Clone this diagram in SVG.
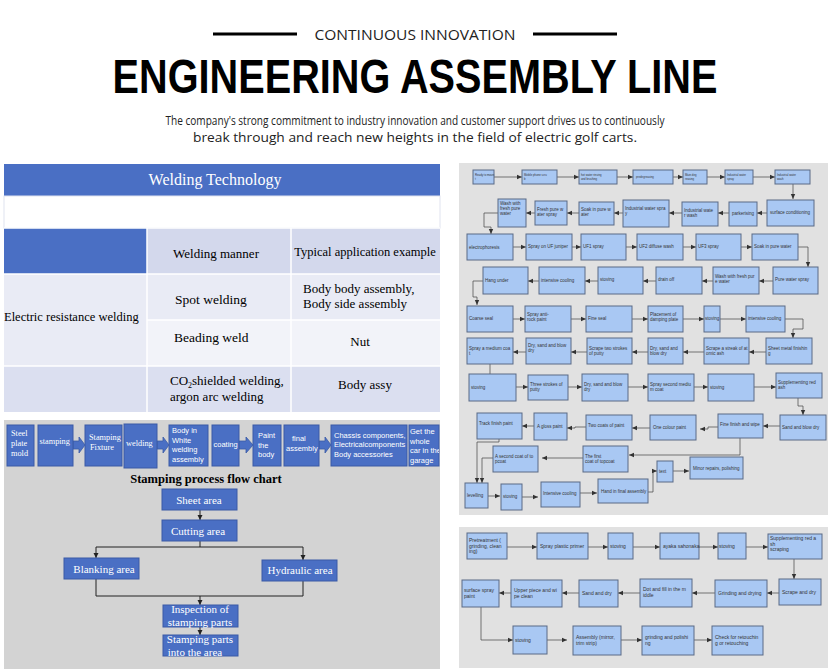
<svg xmlns="http://www.w3.org/2000/svg" width="831" height="672" viewBox="0 0 831 672">
<defs>
<marker id="a" markerWidth="6" markerHeight="6" refX="5" refY="3" orient="auto" markerUnits="userSpaceOnUse"><path d="M0,0.8 L5,3 L0,5.2 z" fill="#333"/></marker>
<marker id="k" markerWidth="6" markerHeight="6" refX="5" refY="3" orient="auto" markerUnits="userSpaceOnUse"><path d="M0,0.5 L5,3 L0,5.5 z" fill="#222"/></marker>
<clipPath id="gclip"><rect x="409" y="425" width="30" height="41"/></clipPath>
<style>
.bx{fill:#a9c8f3;stroke:#5a6a86;stroke-width:1}
.t1{font-family:"Liberation Sans",Arial,sans-serif;font-size:2.8px;fill:#333}
.t{font-family:"Liberation Sans",Arial,sans-serif;font-size:4.5px;fill:#333}
.t2{font-family:"Liberation Sans",Arial,sans-serif;font-size:5px;fill:#333}
.c{fill:none;stroke:#444;stroke-width:0.7;marker-end:url(#a)}
.cl{fill:none;stroke:#444;stroke-width:0.7}
.sb{fill:#4a6fc4;stroke:#3a5aa6;stroke-width:1}
.sw{font-family:"Liberation Serif","Times New Roman",serif;font-size:8.3px;fill:#fff}
.ss{font-family:"Liberation Sans",Arial,sans-serif;font-size:7.5px;fill:#fff}
.fb{fill:#4a6fc4;stroke:#3a5aa6;stroke-width:1}
.ft{font-family:"Liberation Serif","Times New Roman",serif;font-size:11px;fill:#fff;text-anchor:middle}
.fc{fill:none;stroke:#222;stroke-width:1}
.fa{fill:none;stroke:#222;stroke-width:1;marker-end:url(#k)}
.tt{font-family:"Liberation Serif","Times New Roman",serif;fill:#000}
.ba{fill:#4a6fc4;stroke:#3a5aa6;stroke-width:0.8}
</style>
</defs>
<rect width="831" height="672" fill="#fff"/>

<!-- Header -->
<g id="header">
<line x1="213" y1="34" x2="297" y2="34" stroke="#000" stroke-width="3"/>
<line x1="533" y1="34" x2="617" y2="34" stroke="#000" stroke-width="3"/>
<text x="415" y="40" text-anchor="middle" font-family="'Open Sans','Liberation Sans',sans-serif" font-size="15" fill="#222" textLength="201" lengthAdjust="spacingAndGlyphs">CONTINUOUS INNOVATION</text>
<text x="415" y="93" text-anchor="middle" font-family="'Liberation Sans',Arial,sans-serif" font-weight="bold" font-size="49" fill="#000" textLength="605" lengthAdjust="spacingAndGlyphs">ENGINEERING ASSEMBLY LINE</text>
<text x="415" y="125" text-anchor="middle" font-family="'Open Sans','Liberation Sans',sans-serif" font-size="12" fill="#222" textLength="499" lengthAdjust="spacingAndGlyphs">The company's strong commitment to industry innovation and customer support drives us to continuously</text>
<text x="415" y="142" text-anchor="middle" font-family="'Open Sans','Liberation Sans',sans-serif" font-size="12" fill="#222" textLength="444" lengthAdjust="spacingAndGlyphs">break through and reach new heights in the field of electric golf carts.</text>
</g>

<!-- Welding table -->
<g id="welding-table">
<rect x="4" y="164" width="436" height="32" fill="#4a6fc4"/>
<text x="215" y="185" text-anchor="middle" class="tt" font-size="16" style="fill:#fff">Welding Technology</text>
<rect x="4" y="196" width="436" height="32" fill="#fff" stroke="#e0e3ef" stroke-width="1"/>
<rect x="4" y="228" width="143" height="46" fill="#4a6fc4"/>
<rect x="147" y="228" width="144" height="46" fill="#d3d8ec"/>
<rect x="291" y="228" width="149" height="46" fill="#d3d8ec"/>
<rect x="4" y="274" width="143" height="92" fill="#e9ebf5"/>
<rect x="147" y="274" width="293" height="46" fill="#e9ebf5"/>
<rect x="147" y="320" width="293" height="46" fill="#f2f3f9"/>
<rect x="4" y="366" width="436" height="46" fill="#dbdff0"/>
<g stroke="#fff" stroke-width="1.5">
<line x1="4" y1="228" x2="440" y2="228"/>
<line x1="4" y1="274" x2="440" y2="274"/>
<line x1="147" y1="320" x2="440" y2="320"/>
<line x1="4" y1="366" x2="440" y2="366"/>
<line x1="147" y1="228" x2="147" y2="412"/>
<line x1="291" y1="228" x2="291" y2="412"/>
</g>
<text x="216" y="258" text-anchor="middle" class="tt" font-size="13">Welding manner</text>
<text x="365" y="256" text-anchor="middle" class="tt" font-size="12.5">Typical application example</text>
<text x="4" y="321" class="tt" font-size="12.5">Electric resistance welding</text>
<text x="175" y="304" class="tt" font-size="13.5">Spot welding</text>
<text x="303" y="293" class="tt" font-size="13">Body body assembly,</text>
<text x="303" y="308" class="tt" font-size="13">Body side assembly</text>
<text x="174" y="342" class="tt" font-size="13.5">Beading weld</text>
<text x="360" y="346" text-anchor="middle" class="tt" font-size="13">Nut</text>
<text x="170" y="385" class="tt" font-size="13">CO<tspan font-size="8" dy="3">2</tspan><tspan dy="-3">shielded welding,</tspan></text>
<text x="170" y="401" class="tt" font-size="13">argon arc welding</text>
<text x="365" y="389" text-anchor="middle" class="tt" font-size="13">Body assy</text>
</g>

<!-- Stamping section background -->
<rect x="4" y="420" width="436" height="249" fill="#d3d3d3"/>

<!-- Process strip -->
<g id="strip-connectors">
<path class="ba" d="M73,441 L79,441 L79,437 L85,445 L79,453 L79,449 L73,449 z"/>
<path class="ba" d="M157,441 L163,441 L163,437 L169,445 L163,453 L163,449 L157,449 z"/>
<path class="ba" d="M239,441 L246,441 L246,437 L253,445 L246,453 L246,449 L239,449 z"/>
<path class="ba" d="M319,441 L325,441 L325,437 L331,445 L325,453 L325,449 L319,449 z"/>
</g>
<g id="s-steel"><rect class="sb" x="7" y="425" width="27" height="41"/><text class="sw" x="11" y="436">Steel</text><text class="sw" x="11" y="446">plate</text><text class="sw" x="11" y="456">mold</text></g>
<g id="s-stamping"><rect class="sb" x="38" y="425" width="35" height="41"/><text class="sw" x="39.5" y="444">stamping</text></g>
<g id="s-fixture"><rect class="sb" x="85" y="425" width="37" height="41"/><text class="sw" x="89" y="440">Stamping</text><text class="sw" x="90" y="450">Fixture</text></g>
<g id="s-welding"><rect class="sb" x="124" y="424" width="33" height="44"/><text class="sw" x="126" y="446">welding</text></g>
<g id="s-biw"><rect class="sb" x="169" y="425" width="39" height="41"/><text class="ss" x="172" y="433">Body in</text><text class="ss" x="172" y="443">White</text><text class="ss" x="172" y="452">welding</text><text class="ss" x="172" y="462">assembly</text></g>
<g id="s-coating"><rect class="sb" x="212" y="425" width="27" height="41"/><text class="ss" x="213.5" y="447">coating</text></g>
<g id="s-paint"><rect class="sb" x="253" y="425" width="28" height="41"/><text class="ss" x="258" y="438">Paint</text><text class="ss" x="258" y="448">the</text><text class="ss" x="258" y="457">body</text></g>
<g id="s-final"><rect class="sb" x="284" y="425" width="35" height="41"/><text class="ss" x="292" y="441">final</text><text class="ss" x="286" y="451">assembly</text></g>
<g id="s-chassis"><rect class="sb" x="331" y="425" width="76" height="41"/><text class="ss" x="334" y="438">Chassis components,</text><text class="ss" x="334" y="447">Electricalcomponents</text><text class="ss" x="334" y="457">Body accessories</text></g>
<g id="s-garage"><rect class="sb" x="409" y="425" width="30" height="41"/><g clip-path="url(#gclip)"><text class="ss" x="410" y="434">Get the</text><text class="ss" x="410" y="444">whole</text><text class="ss" x="410" y="453">car in the</text><text class="ss" x="410" y="463">garage</text></g></g>

<!-- Stamping flowchart -->
<text x="206" y="483" text-anchor="middle" class="tt" font-size="12.5" font-weight="bold">Stamping process flow chart</text>
<g id="flow-connectors">
<line class="fa" x1="200" y1="510" x2="200" y2="520"/>
<polyline class="fc" points="200,541 200,547"/>
<line class="fc" x1="96" y1="547" x2="303" y2="547"/>
<line class="fa" x1="96" y1="547" x2="96" y2="558"/>
<line class="fa" x1="303" y1="547" x2="303" y2="560"/>
<polyline class="fc" points="96,579 96,596 303,596 303,581"/>
<line class="fa" x1="200" y1="596" x2="200" y2="605"/>
<line class="fa" x1="200" y1="627" x2="200" y2="635"/>
</g>
<g id="f-sheet"><rect class="fb" x="162" y="489" width="75" height="21"/><text class="ft" x="199" y="504">Sheet area</text></g>
<g id="f-cutting"><rect class="fb" x="162" y="520" width="75" height="21"/><text class="ft" x="198" y="535">Cutting area</text></g>
<g id="f-blanking"><rect class="fb" x="64" y="558" width="75" height="21"/><text class="ft" x="104" y="573">Blanking area</text></g>
<g id="f-hydraulic"><rect class="fb" x="262" y="560" width="75" height="21"/><text class="ft" x="300" y="574">Hydraulic area</text></g>
<g id="f-inspection"><rect class="fb" x="163" y="605" width="75" height="22"/><text class="ft" x="200" y="613">Inspection of</text><text class="ft" x="200" y="626">stamping parts</text></g>
<g id="f-into"><rect class="fb" x="163" y="635" width="75" height="21"/><text class="ft" x="200" y="643">Stamping parts</text><text class="ft" x="195" y="656">into the area</text></g>

<!-- Right panel 1 -->
<rect x="459" y="163" width="369" height="352" fill="#e1e1e1"/>
<g id="p1-connectors">
<line class="c" x1="494" y1="177" x2="522" y2="177"/>
<line class="c" x1="557" y1="177" x2="579" y2="177"/>
<line class="c" x1="617" y1="177" x2="633" y2="177"/>
<line class="c" x1="673" y1="177" x2="683" y2="177"/>
<line class="c" x1="707" y1="177" x2="725" y2="177"/>
<line class="c" x1="753" y1="177" x2="775" y2="177"/>
<line class="c" x1="793" y1="184" x2="793" y2="199"/>
<line class="c" x1="767" y1="213" x2="757" y2="213"/>
<line class="c" x1="729" y1="213" x2="718" y2="213"/>
<line class="c" x1="682" y1="213" x2="669" y2="213"/>
<line class="c" x1="623" y1="213" x2="614" y2="213"/>
<line class="c" x1="579" y1="213" x2="567" y2="213"/>
<line class="c" x1="535" y1="213" x2="526" y2="213"/>
<polyline class="c" points="498,213 484,213 484,227 491,227 491,234"/>
<line class="c" x1="513" y1="247" x2="526" y2="247"/>
<line class="c" x1="572" y1="247" x2="581" y2="247"/>
<line class="c" x1="626" y1="247" x2="637" y2="247"/>
<line class="c" x1="683" y1="247" x2="696" y2="247"/>
<line class="c" x1="741" y1="247" x2="752" y2="247"/>
<polyline class="c" points="798,247 808,247 808,267"/>
<line class="c" x1="773" y1="281" x2="759" y2="281"/>
<line class="c" x1="713" y1="281" x2="702" y2="281"/>
<line class="c" x1="656" y1="281" x2="643" y2="281"/>
<line class="c" x1="598" y1="281" x2="585" y2="281"/>
<line class="c" x1="539" y1="281" x2="528" y2="281"/>
<polyline class="c" points="483,281 473,281 473,297 477,297 477,305"/>
<line class="c" x1="513" y1="319" x2="525" y2="319"/>
<line class="c" x1="571" y1="319" x2="586" y2="319"/>
<line class="c" x1="632" y1="319" x2="648" y2="319"/>
<line class="c" x1="683" y1="319" x2="704" y2="319"/>
<line class="c" x1="720" y1="319" x2="746" y2="319"/>
<polyline class="c" points="785,319 803,319 803,329 793,329 793,338"/>
<line class="c" x1="766" y1="352" x2="749" y2="352"/>
<line class="c" x1="704" y1="352" x2="683" y2="352"/>
<line class="c" x1="648" y1="352" x2="632" y2="352"/>
<line class="c" x1="587" y1="352" x2="571" y2="352"/>
<line class="c" x1="526" y1="352" x2="513" y2="352"/>
<line class="cl" x1="490" y1="364" x2="490" y2="374"/>
<line class="c" x1="516" y1="387" x2="528" y2="387"/>
<line class="c" x1="568" y1="387" x2="582" y2="387"/>
<line class="c" x1="628" y1="387" x2="648" y2="387"/>
<line class="c" x1="694" y1="387" x2="708" y2="387"/>
<line class="c" x1="754" y1="387" x2="776" y2="387"/>
<polyline class="c" points="798,398 798,406 803,406 803,415"/>
<line class="c" x1="780" y1="426" x2="763" y2="426"/>
<polyline class="c" points="718,427 708,427 708,429 700,429"/>
<line class="c" x1="650" y1="428" x2="632" y2="428"/>
<polyline class="c" points="586,427 575,427 575,428 567,428"/>
<line class="c" x1="534" y1="426" x2="522" y2="426"/>
<polyline class="c" points="740,438 740,455 629,455"/>
<line class="c" x1="583" y1="458" x2="542" y2="458"/>
<polyline class="c" points="499,439 499,442 477,442 477,483"/>
<polyline class="c" points="493,458 482,458 482,483"/>
<line class="c" x1="488" y1="496" x2="500" y2="496"/>
<line class="c" x1="522" y1="497" x2="538" y2="497"/>
<line class="c" x1="580" y1="493" x2="597" y2="493"/>
<polyline class="c" points="648,492 653,492 653,471 657,471"/>
<line class="c" x1="673" y1="471" x2="689" y2="471"/>
</g>

<!-- Row 1 -->
<g id="n-ready"><rect class="bx" x="473" y="170" width="21" height="14"/><text class="t1" x="475" y="176">Ready to moun</text><text class="t1" x="475" y="179.5">t</text></g>
<g id="n-mobile"><rect class="bx" x="522" y="170" width="35" height="14"/><text class="t1" x="524" y="176">Mobile phone scru</text><text class="t1" x="524" y="179.5">b</text></g>
<g id="n-hotwater"><rect class="bx" x="579" y="170" width="38" height="14"/><text class="t1" x="581" y="176">hot water rinsing</text><text class="t1" x="581" y="179.5">and brushing</text></g>
<g id="n-predeg"><rect class="bx" x="633" y="170" width="40" height="14"/><text class="t1" x="636" y="178">predegreasing</text></g>
<g id="n-maindeg"><rect class="bx" x="683" y="170" width="24" height="14"/><text class="t1" x="685" y="176">Main deg</text><text class="t1" x="685" y="179.5">reasing</text></g>
<g id="n-iwspray1"><rect class="bx" x="725" y="170" width="28" height="14"/><text class="t1" x="727" y="176">Industrial water</text><text class="t1" x="727" y="179.5">spray</text></g>
<g id="n-iwwash1"><rect class="bx" x="775" y="170" width="35" height="14"/><text class="t1" x="777" y="176">Industrial water</text><text class="t1" x="777" y="179.5">wash</text></g>

<!-- Row 2 -->
<g id="n-washfresh"><rect class="bx" x="498" y="199" width="28" height="28"/><text class="t" x="500" y="205">Wash with</text><text class="t" x="500" y="210">fresh pure</text><text class="t" x="500" y="215">water</text></g>
<g id="n-freshspray"><rect class="bx" x="535" y="201" width="32" height="24"/><text class="t" x="537" y="211">Fresh pure w</text><text class="t" x="537" y="216">ater spray</text></g>
<g id="n-soak1"><rect class="bx" x="579" y="202" width="35" height="23"/><text class="t" x="581" y="211">Soak in pure w</text><text class="t" x="581" y="216">ater</text></g>
<g id="n-iwspray2"><rect class="bx" x="623" y="200" width="46" height="27"/><text class="t" x="625" y="210">Industrial water spra</text><text class="t" x="625" y="215">y</text></g>
<g id="n-iwwash2"><rect class="bx" x="682" y="202" width="36" height="24"/><text class="t" x="684" y="212">Industrial wate</text><text class="t" x="684" y="217">r wash</text></g>
<g id="n-parker"><rect class="bx" x="729" y="202" width="28" height="24"/><text class="t" x="732" y="215">parkerising</text></g>
<g id="n-surface"><rect class="bx" x="767" y="200" width="47" height="26"/><text class="t" x="770" y="214">surface conditioning</text></g>

<!-- Row 3 -->
<g id="n-electro"><rect class="bx" x="467" y="234" width="46" height="26"/><text class="t" x="469" y="249">electrophoresis</text></g>
<g id="n-ufjuniper"><rect class="bx" x="526" y="234" width="46" height="26"/><text class="t" x="528" y="248">Spray on UF juniper</text></g>
<g id="n-uf1"><rect class="bx" x="581" y="234" width="45" height="26"/><text class="t" x="583" y="248">UF1 spray</text></g>
<g id="n-uf2"><rect class="bx" x="637" y="234" width="46" height="26"/><text class="t" x="639" y="248">UF2 diffuse wash</text></g>
<g id="n-uf3"><rect class="bx" x="696" y="234" width="45" height="26"/><text class="t" x="698" y="248">UF3 spray</text></g>
<g id="n-soak2"><rect class="bx" x="752" y="234" width="46" height="26"/><text class="t" x="754" y="248">Soak in pure water</text></g>

<!-- Row 4 -->
<g id="n-hang"><rect class="bx" x="483" y="267" width="45" height="27"/><text class="t" x="485" y="282">Hang under</text></g>
<g id="n-cool1"><rect class="bx" x="539" y="267" width="46" height="27"/><text class="t" x="541" y="282">intensive cooling</text></g>
<g id="n-stove1"><rect class="bx" x="598" y="267" width="45" height="27"/><text class="t" x="600" y="281">stoving</text></g>
<g id="n-drain"><rect class="bx" x="656" y="267" width="46" height="27"/><text class="t" x="658" y="281">drain off</text></g>
<g id="n-washfresh2"><rect class="bx" x="713" y="267" width="46" height="27"/><text class="t" x="715" y="278">Wash with fresh pur</text><text class="t" x="715" y="283">e water</text></g>
<g id="n-purespray"><rect class="bx" x="773" y="267" width="45" height="27"/><text class="t" x="775" y="281">Pure water spray</text></g>

<!-- Row 5 -->
<g id="n-coarse"><rect class="bx" x="467" y="306" width="46" height="26"/><text class="t" x="469" y="320">Coarse seal</text></g>
<g id="n-antirock"><rect class="bx" x="525" y="306" width="46" height="26"/><text class="t" x="527" y="316">Spray anti-</text><text class="t" x="527" y="321">rock paint</text></g>
<g id="n-fineseal"><rect class="bx" x="586" y="306" width="46" height="26"/><text class="t" x="588" y="320">Fine seal</text></g>
<g id="n-damping"><rect class="bx" x="648" y="306" width="35" height="26"/><text class="t" x="650" y="316">Placement of</text><text class="t" x="650" y="321">damping plate</text></g>
<g id="n-stove2"><rect class="bx" x="704" y="306" width="16" height="26"/><text class="t" x="705" y="320">stoving</text></g>
<g id="n-cool2"><rect class="bx" x="746" y="306" width="39" height="26"/><text class="t" x="748" y="320">intensive cooling</text></g>

<!-- Row 6 -->
<g id="n-medcoat"><rect class="bx" x="467" y="338" width="46" height="26"/><text class="t" x="469" y="350">Spray a medium coa</text><text class="t" x="469" y="355">t</text></g>
<g id="n-dry1"><rect class="bx" x="526" y="338" width="45" height="26"/><text class="t" x="528" y="347">Dry, sand and blow</text><text class="t" x="528" y="352">dry</text></g>
<g id="n-putty2"><rect class="bx" x="587" y="338" width="45" height="26"/><text class="t" x="589" y="350">Scrape two strokes</text><text class="t" x="589" y="355">of putty</text></g>
<g id="n-dry2"><rect class="bx" x="648" y="338" width="35" height="26"/><text class="t" x="650" y="350">Dry, sand and</text><text class="t" x="650" y="355">blow dry</text></g>
<g id="n-streak"><rect class="bx" x="704" y="338" width="45" height="26"/><text class="t" x="706" y="350">Scrape a streak of at</text><text class="t" x="706" y="355">omic ash</text></g>
<g id="n-sheetmetal"><rect class="bx" x="766" y="338" width="46" height="26"/><text class="t" x="768" y="350">Sheet metal finishin</text><text class="t" x="768" y="355">g</text></g>

<!-- Row 7 -->
<g id="n-stove3"><rect class="bx" x="469" y="374" width="47" height="27"/><text class="t" x="471" y="389">stoving</text></g>
<g id="n-putty3"><rect class="bx" x="528" y="375" width="40" height="25"/><text class="t" x="530" y="386">Three strokes of</text><text class="t" x="530" y="391">putty</text></g>
<g id="n-dry3"><rect class="bx" x="582" y="374" width="46" height="27"/><text class="t" x="584" y="386">Dry, sand and blow</text><text class="t" x="584" y="391">dry</text></g>
<g id="n-secondmed"><rect class="bx" x="648" y="374" width="46" height="27"/><text class="t" x="650" y="386">Spray second mediu</text><text class="t" x="650" y="391">m coat</text></g>
<g id="n-stove4"><rect class="bx" x="708" y="374" width="46" height="27"/><text class="t" x="710" y="389">stoving</text></g>
<g id="n-suppred"><rect class="bx" x="776" y="373" width="46" height="25"/><text class="t" x="778" y="384">Supplementing red</text><text class="t" x="778" y="389">ash</text></g>

<!-- Row 8 -->
<g id="n-track"><rect class="bx" x="477" y="413" width="45" height="26"/><text class="t" x="479" y="425">Track finish paint</text></g>
<g id="n-gloss"><rect class="bx" x="534" y="413" width="33" height="27"/><text class="t" x="537" y="428">A gloss paint</text></g>
<g id="n-twocoats"><rect class="bx" x="586" y="415" width="46" height="25"/><text class="t" x="588" y="427">Two coats of paint</text></g>
<g id="n-onecolour"><rect class="bx" x="650" y="415" width="46" height="25"/><text class="t" x="653" y="429">One colour paint</text></g>
<g id="n-finefinish"><rect class="bx" x="718" y="414" width="45" height="24"/><text class="t" x="720" y="426">Fine finish and wipe</text></g>
<g id="n-sandblow"><rect class="bx" x="780" y="415" width="46" height="25"/><text class="t" x="782" y="429">Sand and blow dry</text></g>

<!-- Row 9 -->
<g id="n-secondcoat"><rect class="bx" x="493" y="446" width="45" height="26"/><text class="t" x="495" y="458">A second coat of to</text><text class="t" x="495" y="463">pcoat</text></g>
<g id="n-firstcoat"><rect class="bx" x="583" y="446" width="45" height="26"/><text class="t" x="585" y="458">The first</text><text class="t" x="585" y="463">coat of topcoat</text></g>
<g id="n-text"><rect class="bx" x="657" y="461" width="16" height="21"/><text class="t" x="659" y="473">text</text></g>
<g id="n-minor"><rect class="bx" x="690" y="457" width="53" height="22"/><text class="t" x="693" y="470">Minor repairs, polishing</text></g>

<!-- Row 10 -->
<g id="n-level"><rect class="bx" x="465" y="483" width="23" height="25"/><text class="t" x="467" y="497">levelling</text></g>
<g id="n-stove5"><rect class="bx" x="501" y="484" width="21" height="26"/><text class="t" x="503" y="498">stoving</text></g>
<g id="n-cool3"><rect class="bx" x="541" y="482" width="39" height="25"/><text class="t" x="543" y="495">Intensive cooling</text></g>
<g id="n-handin"><rect class="bx" x="598" y="479" width="50" height="24"/><text class="t" x="601" y="493">Hand in final assembly</text></g>

<!-- Right panel 2 -->
<rect x="459" y="527" width="369" height="141" fill="#e1e1e1"/>
<g id="p2-connectors">
<line class="c" x1="507" y1="547" x2="537" y2="547"/>
<line class="c" x1="588" y1="547" x2="608" y2="547"/>
<line class="c" x1="633" y1="547" x2="660" y2="547"/>
<line class="c" x1="699" y1="547" x2="718" y2="547"/>
<line class="c" x1="746" y1="547" x2="768" y2="547"/>
<line class="c" x1="794" y1="559" x2="794" y2="579"/>
<line class="c" x1="779" y1="593" x2="767" y2="593"/>
<line class="c" x1="715" y1="593" x2="692" y2="593"/>
<line class="c" x1="640" y1="593" x2="618" y2="593"/>
<line class="c" x1="579" y1="593" x2="562" y2="593"/>
<line class="c" x1="511" y1="593" x2="499" y2="593"/>
<polyline class="c" points="481,607 481,640 513,640"/>
<line class="c" x1="547" y1="640" x2="567" y2="640"/>
<line class="c" x1="621" y1="640" x2="642" y2="640"/>
<line class="c" x1="694" y1="640" x2="712" y2="640"/>
</g>
<g id="m-pretreat"><rect class="bx" x="467" y="533" width="40" height="26"/><text class="t2" x="469" y="542">Pretreatment (</text><text class="t2" x="469" y="547.5">grinding, clean</text><text class="t2" x="469" y="553">ing)</text></g>
<g id="m-primer"><rect class="bx" x="537" y="533" width="51" height="26"/><text class="t2" x="540" y="548">Spray plastic primer</text></g>
<g id="m-stove1"><rect class="bx" x="608" y="533" width="25" height="26"/><text class="t2" x="610" y="548">stoving</text></g>
<g id="m-ayaka"><rect class="bx" x="660" y="533" width="39" height="26"/><text class="t2" x="663" y="548">ayaka sahonaka</text></g>
<g id="m-stove2"><rect class="bx" x="718" y="533" width="28" height="26"/><text class="t2" x="719" y="548">stoving</text></g>
<g id="m-suppred"><rect class="bx" x="768" y="534" width="54" height="25"/><text class="t2" x="770" y="540">Supplementing red a</text><text class="t2" x="770" y="545.5">sh</text><text class="t2" x="770" y="551">scraping</text></g>
<g id="m-surfspray"><rect class="bx" x="462" y="580" width="37" height="27"/><text class="t2" x="464" y="592">surface spray</text><text class="t2" x="464" y="598">paint</text></g>
<g id="m-upper"><rect class="bx" x="511" y="580" width="51" height="27"/><text class="t2" x="514" y="592">Upper piece and wi</text><text class="t2" x="514" y="598">pe clean</text></g>
<g id="m-sanddry"><rect class="bx" x="579" y="580" width="39" height="27"/><text class="t2" x="582" y="595">Sand and dry</text></g>
<g id="m-dotfill"><rect class="bx" x="640" y="579" width="52" height="28"/><text class="t2" x="643" y="591">Dot and fill in the m</text><text class="t2" x="643" y="597">iddle</text></g>
<g id="m-grinddry"><rect class="bx" x="715" y="580" width="52" height="27"/><text class="t2" x="718" y="595">Grinding and drying</text></g>
<g id="m-scrapedry"><rect class="bx" x="779" y="579" width="42" height="26"/><text class="t2" x="782" y="594">Scrape and dry</text></g>
<g id="m-stove3"><rect class="bx" x="513" y="626" width="34" height="28"/><text class="t2" x="515" y="642">stoving</text></g>
<g id="m-assembly"><rect class="bx" x="573" y="626" width="48" height="29"/><text class="t2" x="576" y="639">Assembly (mirror,</text><text class="t2" x="576" y="645">trim strip)</text></g>
<g id="m-grindpol"><rect class="bx" x="642" y="626" width="52" height="29"/><text class="t2" x="645" y="639">grinding and polishi</text><text class="t2" x="645" y="645">ng</text></g>
<g id="m-check"><rect class="bx" x="712" y="626" width="51" height="29"/><text class="t2" x="715" y="639">Check for retouchin</text><text class="t2" x="715" y="645">g or retouching</text></g>
</svg>
